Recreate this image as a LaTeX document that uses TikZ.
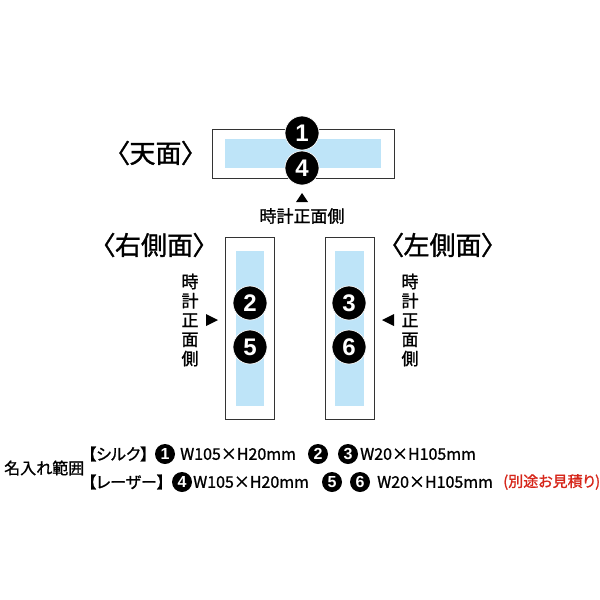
\documentclass[tikz,border=0pt]{standalone}
\usepackage{fontspec}
\setmainfont{Noto Sans CJK JP}[FakeBold=1.2]
\newfontfamily\legendfont{Noto Sans CJK JP}[FakeBold=1.2, RawFeature=+palt]
\newfontfamily\numfont{Liberation Sans}
\definecolor{silkblue}{RGB}{190,228,248}
\definecolor{notered}{RGB}{214,38,26}
\begin{document}
\begin{tikzpicture}[x=1pt,y=-1pt,
		face/.style={draw=black!80, line width=0.8pt},
		zone/.style={fill=silkblue},
		bignum/.style={circle, fill=black, draw=white, line width=0.7pt, text=white,
			minimum size=34pt, inner sep=0pt, font=\numfont\bfseries\fontsize{24}{24}\selectfont},
		smallnum/.style={circle, fill=black, text=white, minimum size=20pt, inner sep=0pt,
			font=\numfont\bfseries\fontsize{16}{16}\selectfont},
		heading/.style={inner sep=0pt, font=\legendfont\fontsize{26}{26}\selectfont},
		vlabel/.style={inner sep=0pt, align=center, font=\fontsize{17}{19.25}\selectfont},
		legend/.style={inner sep=0pt, anchor=west, font=\legendfont\fontsize{16}{16}\selectfont}
	]
	\useasboundingbox (0,0) rectangle (600,600);
	% faces
	\draw[face] (212,129) rectangle (394,178);
	\fill[zone] (225,139) rectangle (381,168);
	\draw[face] (225,237) rectangle (274,419);
	\fill[zone] (236,251) rectangle (264,406);
	\draw[face] (325,237) rectangle (374,419);
	\fill[zone] (335,251) rectangle (364,406);
	% print positions
	\foreach\n/\x/\y in{
		1/302/133, 4/302/168,
		2/250/303, 5/250/347,
		3/349/303, 6/349/347
	}{
		\node[bignum] (pos\n) at (\x,\y) {\n};
	}
	% headings
	\node[heading] (tophead) at (155.5,153) {〈天面〉};
	\node[heading] (righthead) at (154,245) {〈右側面〉};
	\node[heading] (lefthead) at (442.5,245) {〈左側面〉};
	% clock front markers
	\fill (302,193) -- (308,202) -- (296,202) -- cycle;
	\node[inner sep=0pt, font=\fontsize{17}{17}\selectfont] (topfront) at (302,216) {時計正面側};
	\fill (218,320) -- (206,314) -- (206,326) -- cycle;
	\node[vlabel] (rightfront) at (190,320) {時\\計\\正\\面\\側};
	\fill (382,320) -- (394,314) -- (394,326) -- cycle;
	\node[vlabel] (leftfront) at (410,320) {時\\計\\正\\面\\側};
	% legend
	\node[legend] (area) at (4,468) {名入れ範囲};
	\node[legend] (silk) at (88,454) {【シルク】};
	\node[smallnum] (s1) at (165,454) {1};
	\node[legend] (silktop) at (180,454) {W105×H20mm};
	\node[smallnum] (s2) at (318,454) {2};
	\node[smallnum] (s3) at (348,454) {3};
	\node[legend] (silkside) at (360,454) {W20×H105mm};
	\node[legend] (laser) at (88,482) {【レーザー】};
	\node[smallnum] (s4) at (182,482) {4};
	\node[legend] (lasertop) at (193,482) {W105×H20mm};
	\node[smallnum] (s5) at (332,482) {5};
	\node[smallnum] (s6) at (360,482) {6};
	\node[legend] (laserside) at (377,482) {W20×H105mm};
	\node[legend, text=notered, font=\legendfont\fontsize{15}{15}\selectfont] (quote) at (503,482) {(別途お見積り)};
\end{tikzpicture}
\end{document}
